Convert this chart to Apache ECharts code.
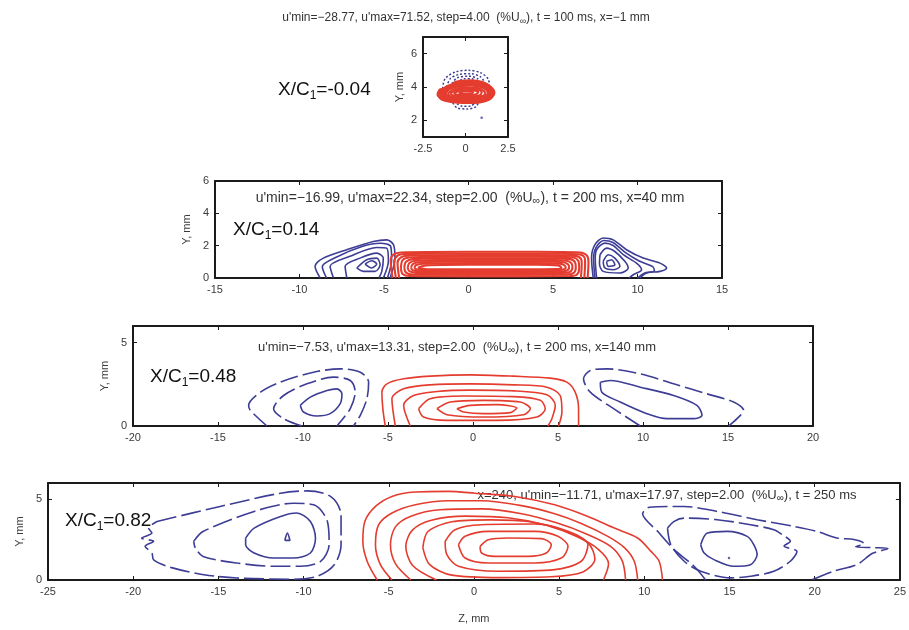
<!DOCTYPE html>
<html>
<head>
    <meta charset="utf-8">
    <title>Velocity contours</title>
    <script src="https://cdn.jsdelivr.net/npm/echarts@6/dist/echarts.min.js"></script>
    <style>
        html, body { margin: 0; padding: 0; background: #fff; }
        #container { width: 909px; height: 630px; }
    </style>
</head>
<body>
<div id="container"></div>
<script>
    var FONT = '"Liberation Sans", Arial, sans-serif';
    var RED = '#e43d2f', BLUE = '#3d3d96';

    // tick values
    var p1XTicks = [-2.5, 0, 2.5], p1YTicks = [2, 4, 6];
    var p2XTicks = [-15, -10, -5, 0, 5, 10, 15], p2YTicks = [0, 2, 4, 6];
    var p3XTicks = [-20, -15, -10, -5, 0, 5, 10, 15, 20], p3YTicks = [0, 5];
    var p4XTicks = [-25, -20, -15, -10, -5, 0, 5, 10, 15, 20, 25], p4YTicks = [0, 5];

    // texts
    var titles = [
        ["u'min=\u221228.77, u'max=71.52, step=4.00  (%U", "), t = 100 ms, x=\u22121 mm"],
        ["u'min=\u221216.99, u'max=22.34, step=2.00  (%U", "), t = 200 ms, x=40 mm"],
        ["u'min=\u22127.53, u'max=13.31, step=2.00  (%U", "), t = 200 ms, x=140 mm"],
        ["x=240, u'min=\u221211.71, u'max=17.97, step=2.00  (%U", "), t = 250 ms"]
    ];
    var stations = ['=-0.04', '=0.14', '=0.48', '=0.82'];

    // panel 1 (x = -1 mm) contour lines, [Z, Y]
    var p1RedRings = [
        [[-1.65, 3.55], [-1.5, 3.85], [-1.0, 3.95], [-0.6, 4.3], [0.3, 4.4], [1.0, 4.3], [1.5, 4.0], [1.7, 3.65], [1.4, 3.25], [0.5, 3.05], [-0.6, 3.08], [-1.4, 3.25]],
        [[-1.58, 3.55], [-1.4, 3.85], [-0.55, 4.25], [0.3, 4.35], [1.0, 4.25], [1.48, 3.98], [1.62, 3.62], [1.35, 3.28], [0.45, 3.09], [-0.6, 3.11], [-1.35, 3.28]],
        [[-1.5, 3.55], [-1.3, 3.85], [-0.5, 4.2], [0.3, 4.3], [1.0, 4.2], [1.45, 3.95], [1.55, 3.6], [1.3, 3.3], [0.4, 3.12], [-0.6, 3.15], [-1.3, 3.3]],
        [[-1.42, 3.55], [-1.2, 3.85], [-0.45, 4.15], [0.3, 4.25], [0.98, 4.15], [1.4, 3.92], [1.5, 3.6], [1.25, 3.32], [0.4, 3.16], [-0.55, 3.18], [-1.22, 3.32]],
        [[-1.35, 3.55], [-1.1, 3.85], [-0.4, 4.1], [0.3, 4.2], [0.95, 4.1], [1.35, 3.9], [1.45, 3.6], [1.2, 3.35], [0.4, 3.2], [-0.5, 3.22], [-1.15, 3.35]],
        [[-1.28, 3.58], [-1.0, 3.88], [-0.35, 4.08], [0.3, 4.15], [0.92, 4.05], [1.3, 3.85], [1.38, 3.6], [1.12, 3.38], [0.35, 3.24], [-0.5, 3.26], [-1.08, 3.38]],
        [[-1.2, 3.6], [-0.9, 3.9], [-0.3, 4.05], [0.3, 4.1], [0.9, 4.0], [1.25, 3.8], [1.3, 3.6], [1.05, 3.4], [0.3, 3.28], [-0.5, 3.3], [-1.0, 3.4]],
        [[-1.05, 3.6], [-0.7, 3.85], [0, 3.98], [0.7, 3.95], [1.1, 3.75], [1.15, 3.58], [0.9, 3.42], [0.2, 3.35], [-0.5, 3.37], [-0.9, 3.45]],
        [[-0.9, 3.62], [-0.5, 3.82], [0.1, 3.9], [0.7, 3.85], [0.95, 3.7], [0.85, 3.5], [0.2, 3.42], [-0.5, 3.45], [-0.8, 3.52]],
        [[-0.7, 3.63], [-0.3, 3.78], [0.3, 3.82], [0.75, 3.7], [0.6, 3.55], [0, 3.5], [-0.5, 3.53]],
        [[-0.4, 3.65], [0, 3.74], [0.45, 3.7], [0.35, 3.6], [-0.1, 3.58]],
        [[-1.65, 3.55], [-1.45, 3.75], [-1.2, 3.65], [-1.3, 3.45], [-1.55, 3.42]],
        [[-1.45, 3.55], [-1.3, 3.68], [-1.12, 3.58], [-1.25, 3.45]]
    ];
    var p1BlueArcs = [
        [[-1.35, 3.9], [-1.2, 4.5], [-0.6, 4.9], [0.2, 5.0], [0.9, 4.85], [1.35, 4.45], [1.4, 4.0]],
        [[-1.1, 4.0], [-0.9, 4.5], [-0.4, 4.75], [0.3, 4.8], [0.9, 4.6], [1.15, 4.2]],
        [[-0.8, 4.2], [-0.5, 4.55], [0.2, 4.65], [0.7, 4.5], [0.9, 4.2]],
        [[-0.5, 4.25], [-0.1, 4.5], [0.4, 4.5], [0.6, 4.25]],
        [[-0.75, 3.05], [-0.5, 2.75], [0.1, 2.68], [0.6, 2.8], [0.75, 3.05]],
        [[-0.5, 3.0], [-0.2, 2.85], [0.3, 2.85], [0.5, 3.0]]
    ];
    var p1Dots = [[0.95, 2.15]];

    // panel 2 (x = 40 mm)
    var p2RedOpen = [
        [[-4.5, 0], [-4.6, 1.1], [-4.45, 1.45], [-4.0, 1.58], [0, 1.62], [4, 1.62], [6.6, 1.58], [7.0, 1.4], [7.1, 1.0], [7.05, 0]],
        [[-4.3, 0], [-4.4, 1.0], [-4.2, 1.38], [-3.8, 1.48], [0, 1.52], [4, 1.52], [6.5, 1.47], [6.85, 1.3], [6.9, 0.9], [6.85, 0]],
        [[-4.1, 0], [-4.2, 0.95], [-4.0, 1.28], [-3.6, 1.38], [0, 1.42], [4, 1.42], [6.3, 1.37], [6.65, 1.2], [6.7, 0.85], [6.65, 0]]
    ];
    var p2RedClosed = [
        [[-4.0, 0.6], [-3.9, 1.1], [-3.5, 1.27], [0, 1.32], [4, 1.32], [6.2, 1.27], [6.5, 1.05], [6.55, 0.6], [6.4, 0.2], [6, 0.12], [0, 0.1], [-3.5, 0.12], [-3.9, 0.25]],
        [[-3.8, 0.62], [-3.7, 1.0], [-3.3, 1.17], [0, 1.22], [4, 1.22], [6.0, 1.17], [6.3, 0.98], [6.35, 0.62], [6.2, 0.3], [5.8, 0.22], [0, 0.2], [-3.3, 0.22], [-3.7, 0.33]],
        [[-3.6, 0.63], [-3.5, 0.93], [-3.1, 1.07], [0, 1.12], [4, 1.12], [5.8, 1.07], [6.1, 0.9], [6.15, 0.63], [6.0, 0.38], [5.6, 0.31], [0, 0.3], [-3.1, 0.32], [-3.5, 0.42]],
        [[-3.4, 0.63], [-3.3, 0.86], [-2.9, 0.97], [0, 1.02], [4, 1.02], [5.6, 0.97], [5.9, 0.83], [5.95, 0.63], [5.8, 0.45], [5.4, 0.4], [0, 0.39], [-2.9, 0.41], [-3.3, 0.48]],
        [[-3.2, 0.63], [-3.1, 0.8], [-2.7, 0.88], [0, 0.92], [4, 0.92], [5.4, 0.88], [5.7, 0.77], [5.75, 0.63], [5.6, 0.52], [5.2, 0.48], [0, 0.47], [-2.7, 0.49], [-3.1, 0.54]],
        [[-3.0, 0.63], [-2.5, 0.78], [0, 0.82], [4, 0.82], [5.3, 0.78], [5.5, 0.63], [5.3, 0.55], [4, 0.54], [0, 0.54], [-2.5, 0.55]]
    ];
    var p2BlueOpen = [
        [[-8.78, 0], [-9.08, 0.72], [-8.59, 1.23], [-7.2, 1.75], [-5.63, 2.26], [-4.84, 2.36], [-4.44, 2.06], [-4.35, 1.23], [-4.64, 0]],
        [[-8.4, 0], [-8.65, 0.7], [-7.8, 1.3], [-6.3, 1.95], [-5.2, 2.15], [-4.6, 1.95], [-4.55, 1.1], [-4.8, 0]],
        [[-7.99, 0], [-8.19, 0.72], [-7.01, 1.34], [-5.43, 1.89], [-4.84, 1.85], [-4.74, 1.03], [-5.04, 0]],
        [[-7.2, 0], [-7.3, 0.72], [-6.42, 1.23], [-5.43, 1.54], [-5.04, 1.23], [-5.13, 0.41], [-5.3, 0]],
        [[7.38, 0], [7.28, 1.23], [7.48, 2.06], [7.97, 2.47], [8.56, 2.36], [9.35, 1.75], [10.34, 1.23], [11.33, 0.92], [11.72, 0.62], [11.33, 0.41], [10.54, 0.31], [10.14, 0]],
        [[7.48, 0], [7.4, 1.2], [7.55, 1.9], [8.0, 2.32], [8.55, 2.2], [9.25, 1.6], [10.1, 1.05], [10.9, 0.7], [11.0, 0.45], [10.4, 0.3], [10.0, 0]],
        [[7.58, 0], [7.5, 1.2], [7.58, 1.75], [8.07, 2.16], [8.56, 2.01], [9.16, 1.44], [9.94, 0.92], [10.24, 0.51], [9.75, 0.2], [9.5, 0]]
    ];
    var p2BlueClosed = [
        [[-6.61, 0.62], [-6.02, 1.13], [-5.43, 1.23], [-5.23, 0.82], [-5.53, 0.41], [-6.22, 0.41]],
        [[-6.12, 0.86], [-5.73, 1.07], [-5.43, 0.86], [-5.73, 0.62]],
        [[7.78, 1.44], [8.17, 1.85], [8.66, 1.64], [9.25, 1.03], [9.45, 0.62], [8.96, 0.31], [7.97, 0.41], [7.75, 0.9]],
        [[7.97, 1.03], [8.27, 1.44], [8.66, 1.23], [8.96, 0.72], [8.56, 0.51], [8.07, 0.62]],
        [[8.17, 1.03], [8.47, 1.13], [8.66, 0.82], [8.27, 0.72]]
    ];

    // panel 3 (x = 140 mm)
    var p3RedOpen = [
        [[-5.16, 0], [-5.3, 1.0], [-5.36, 2.03], [-5.06, 2.53], [-4.08, 2.83], [-2.52, 2.99], [-0.16, 3.07], [2.39, 2.99], [4.54, 2.87], [5.52, 2.63], [6.01, 2.03], [6.21, 1.04], [6.21, 0]],
        [[-4.57, 0], [-4.77, 1.64], [-4.08, 2.23], [-2.52, 2.47], [-0.16, 2.53], [2.39, 2.47], [4.35, 2.33], [5.13, 1.83], [5.23, 0.84], [5.03, 0]],
        [[-3.69, 0], [-4.08, 1.24], [-3.5, 1.83], [-2.12, 2.07], [-0.16, 2.15], [2.39, 2.11], [4.35, 1.87], [4.84, 1.24], [4.64, 0.44], [4.4, 0]]
    ];
    var p3RedClosed = [
        [[-3.2, 1.04], [-2.52, 1.64], [-0.56, 1.8], [2.39, 1.76], [3.96, 1.54], [4.25, 1.04], [3.76, 0.54], [1.41, 0.34], [-1.53, 0.34], [-2.91, 0.54]],
        [[-2.12, 1.04], [-1.34, 1.44], [0.62, 1.54], [2.78, 1.44], [3.37, 1.04], [2.98, 0.68], [0.62, 0.54], [-1.53, 0.68]],
        [[-0.95, 1.04], [-0.16, 1.24], [1.41, 1.28], [2.58, 1.08], [2.19, 0.8], [0.62, 0.74], [-0.56, 0.84]]
    ];
    var p3BlueOpen = [
        [[-12.12, 0], [-13.1, 0.94], [-13.2, 1.24], [-12.5, 2.03], [-11.34, 2.63], [-9.38, 3.23], [-7.81, 3.43], [-6.63, 3.23], [-6.14, 2.63], [-6.24, 1.64], [-6.63, 0.64], [-7.03, 0]],
        [[-10.06, 0], [-11.14, 0.44], [-11.73, 1.04], [-11.14, 1.83], [-9.77, 2.53], [-8.2, 2.93], [-7.22, 2.73], [-6.93, 2.03], [-7.22, 1.04], [-7.81, 0.24], [-8.0, 0]],
        [[9.84, 0], [8.27, 1.04], [6.9, 2.03], [6.5, 2.83], [6.9, 3.33], [7.88, 3.43], [9.84, 3.13], [11.8, 2.53], [13.76, 1.93], [15.33, 1.44], [15.92, 0.94], [15.53, 0.44], [15.04, 0]]
    ];
    var p3BlueClosed = [
        [[-10.16, 1.24], [-9.57, 1.73], [-8.59, 2.13], [-8.0, 2.23], [-7.71, 1.93], [-7.81, 1.34], [-8.4, 0.74], [-9.18, 0.6], [-9.97, 0.84]],
        [[7.49, 2.63], [8.07, 2.73], [9.84, 2.33], [11.8, 1.83], [13.17, 1.24], [13.47, 0.64], [12.98, 0.44], [11.41, 0.44], [10.23, 0.74], [8.66, 1.44], [7.58, 2.03]]
    ];

    // panel 4 (x = 240 mm)
    var p4RedOpen = [
        [[-5.68, 0], [-6.27, 1.16], [-6.52, 2.39], [-6.4, 3.63], [-5.78, 4.55], [-4.81, 5.17], [-3.44, 5.44], [-1.5, 5.48], [0.06, 5.37], [2.4, 5.17], [4.74, 4.65], [6.69, 3.93], [8.24, 3.21], [9.61, 2.6], [10.39, 1.77], [10.87, 1.16], [11.07, 0]],
        [[-4.81, 0], [-5.49, 0.95], [-5.78, 2.18], [-5.59, 3.42], [-4.81, 4.14], [-3.44, 4.65], [-1.5, 4.9], [0.45, 4.9], [2.79, 4.6], [4.74, 4.1], [6.3, 3.5], [7.86, 2.7], [8.83, 2.0], [9.41, 1.16], [9.61, 0]],
        [[-3.7, 0], [-4.6, 1.0], [-4.9, 2.2], [-4.6, 3.3], [-3.7, 3.95], [-2, 4.35], [0.5, 4.4], [2.8, 4.1], [4.8, 3.55], [6.6, 2.85], [8.0, 2.1], [8.7, 1.2], [8.9, 0]],
        [[-2.2, 0], [-3.6, 0.9], [-4.0, 2.1], [-3.6, 3.1], [-2.5, 3.7], [-0.5, 3.95], [2, 3.85], [4.2, 3.4], [6, 2.7], [7.3, 1.9], [7.9, 1.0], [7.6, 0]]
    ];
    var p4RedClosed = [
        [[-3.0, 2.0], [-2.7, 3.0], [-1.3, 3.6], [1.0, 3.72], [3.3, 3.6], [5.2, 3.1], [6.7, 2.3], [7.1, 1.3], [6.4, 0.5], [4.5, 0.2], [1.5, 0.15], [-1.3, 0.3], [-2.6, 0.95]],
        [[-1.69, 2.39], [-1.11, 3.11], [0.45, 3.42], [3.57, 3.46], [5.52, 3.01], [6.69, 2.18], [6.3, 1.16], [4.74, 0.64], [1.43, 0.54], [-0.91, 0.85], [-1.59, 1.57]],
        [[-0.91, 2.18], [-0.52, 2.7], [0.84, 3.01], [3.57, 3.01], [4.93, 2.7], [5.52, 2.08], [5.13, 1.36], [3.57, 1.05], [0.84, 1.05], [-0.52, 1.36]],
        [[0.36, 2.08], [0.84, 2.49], [2.0, 2.6], [3.96, 2.56], [4.54, 2.18], [4.25, 1.67], [3.18, 1.46], [1.23, 1.46], [0.45, 1.67]]
    ];
    var p4BlueDashed = [
        [[-18.6, 3.62], [-14.9, 4.55], [-11.35, 5.37], [-9.8, 5.51], [-8.4, 5.16], [-7.8, 4.03], [-7.8, 2.18], [-8.2, 0.94], [-9.2, 0.23], [-10.6, 0.05], [-13.9, 0.12], [-15.85, 0.33], [-17.8, 0.78], [-18.8, 1.25], [-18.9, 1.67], [-19.3, 2.08], [-18.8, 2.39], [-19.5, 2.59], [-18.9, 2.9], [-19.1, 3.21]],
        [[-16.45, 2.39], [-15.9, 3.0], [-12.9, 4.24], [-10.6, 4.75], [-9.4, 4.65], [-8.6, 3.62], [-8.5, 2.18], [-9.0, 1.15], [-10.2, 0.85], [-11.75, 0.85], [-13.9, 1.05], [-15.9, 1.46], [-16.35, 1.98]],
        [[11.36, 3.21], [11.75, 3.63], [12.34, 3.83], [14.28, 3.73], [16.23, 3.42], [17.6, 3.11], [18.1, 2.8], [18.57, 2.39], [18.2, 2.1], [18.96, 1.77], [18.57, 1.16], [17.6, 0.54], [16.23, 0.23], [15.06, 0.13], [13.31, 0.54], [12.34, 1.16], [11.56, 2.18]]
    ];
    var p4BlueSolid = [
        [[-13.4, 2.59], [-12.9, 3.21], [-11.35, 3.93], [-10.4, 4.14], [-9.6, 3.62], [-9.3, 2.59], [-9.6, 1.67], [-10.6, 1.36], [-11.75, 1.36], [-12.9, 1.67], [-13.4, 2.18]],
        [[-11.1, 2.45], [-10.8, 2.45], [-10.95, 2.9]],
        [[13.31, 2.18], [13.7, 2.9], [14.87, 3.01], [16.04, 2.7], [16.43, 2.18], [16.62, 1.57], [16.23, 0.95], [15.26, 0.85], [14.09, 1.26], [13.51, 1.67]]
    ];
    var p4BlueEdge = [
        [[13.6, 0], [12.92, 0.85], [11.75, 1.88], [10.78, 3.01], [9.9, 4.1], [10.3, 4.5], [12.34, 4.55], [14.28, 4.24], [16.62, 3.73], [18.77, 3.32], [20.13, 3.01], [21.3, 2.6], [22.3, 2.5], [22.9, 2.25], [22.4, 2.05], [23.5, 2.0], [24.3, 1.95], [23.4, 1.65], [22.47, 0.95], [21.1, 0.54], [20.1, 0.13], [19.8, 0]]
    ];
    var p4Dots = [[14.97, 1.36]];

    var panels = [
        {left: 423, top: 37, width: 85, height: 100, xMin: -2.5, xMax: 2.5, yMin: 1, yMax: 7, xTicks: p1XTicks, yTicks: p1YTicks, nameGap: 18, titleSize: 12},
        {left: 215, top: 181, width: 507, height: 97, xMin: -15, xMax: 15, yMin: 0, yMax: 6, xTicks: p2XTicks, yTicks: p2YTicks, nameGap: 10, titleSize: 14},
        {left: 133, top: 326, width: 680, height: 100, xMin: -20, xMax: 20, yMin: 0, yMax: 6, xTicks: p3XTicks, yTicks: p3YTicks, nameGap: 23, titleSize: 13},
        {left: 48, top: 483, width: 855, height: 97, xMin: -25, xMax: 25, yMin: 0, yMax: 6, xTicks: p4XTicks, yTicks: p4YTicks, nameGap: 22, titleSize: 13}
    ];

    var grids = [], xAxes = [], yAxes = [], series = [];
    var frame = {onZero: false, lineStyle: {color: '#1b1b1b', width: 2}};

    panels.forEach(function (p, i) {
        grids.push({left: p.left, top: p.top, width: p.width, height: p.height, containLabel: false});
        var tick = {inside: true, length: 4, customValues: p.xTicks, lineStyle: {color: '#1b1b1b', width: 1}};
        var ytick = {inside: true, length: 4, customValues: p.yTicks, lineStyle: {color: '#1b1b1b', width: 1}};
        xAxes.push({
            gridIndex: i, type: 'value', min: p.xMin, max: p.xMax, position: 'bottom',
            axisLine: frame, axisTick: tick, splitLine: {show: false},
            axisLabel: {customValues: p.xTicks, color: '#3a3a3a', fontSize: 11, fontFamily: FONT, margin: 6},
            name: i === 3 ? 'Z, mm' : '', nameLocation: 'middle', nameGap: 33,
            nameTextStyle: {color: '#3a3a3a', fontSize: 11, fontFamily: FONT}
        });
        xAxes.push({
            gridIndex: i, type: 'value', min: p.xMin, max: p.xMax, position: 'top',
            axisLine: frame, axisTick: tick, axisLabel: {show: false}, splitLine: {show: false}
        });
        yAxes.push({
            gridIndex: i, type: 'value', min: p.yMin, max: p.yMax, position: 'left',
            axisLine: frame, axisTick: ytick, splitLine: {show: false},
            axisLabel: {customValues: p.yTicks, color: '#3a3a3a', fontSize: 11, fontFamily: FONT, margin: 6},
            name: 'Y, mm', nameLocation: 'middle', nameGap: p.nameGap, nameRotate: 90,
            nameTextStyle: {color: '#3a3a3a', fontSize: 11, fontFamily: FONT}
        });
        yAxes.push({
            gridIndex: i, type: 'value', min: p.yMin, max: p.yMax, position: 'right',
            axisLine: frame, axisTick: ytick, axisLabel: {show: false}, splitLine: {show: false}
        });
    });

    function addRings(list, gi, color, closed, dash, width) {
        list.forEach(function (pts) {
            var d = pts.slice();
            if (closed) d.push(pts[0]);
            series.push({
                type: 'line', xAxisIndex: gi * 2, yAxisIndex: gi * 2, data: d,
                symbol: 'none', smooth: 0.3, clip: true, silent: true,
                lineStyle: {color: color, width: width || 1.6, type: dash || 'solid'}
            });
        });
    }

    function addDots(list, gi, color) {
        series.push({
            type: 'scatter', xAxisIndex: gi * 2, yAxisIndex: gi * 2, data: list,
            symbolSize: 2.5, itemStyle: {color: color}, silent: true
        });
    }

    addRings(p1BlueArcs, 0, BLUE, false, [2, 2], 1.5);
    addRings(p1RedRings, 0, RED, true, null, 2.2);
    addDots(p1Dots, 0, BLUE);

    addRings(p2BlueOpen, 1, BLUE, false);
    addRings(p2BlueClosed, 1, BLUE, true);
    addRings(p2RedOpen, 1, RED, false, null, 2.1);
    addRings(p2RedClosed, 1, RED, true, null, 2.1);

    addRings(p3BlueOpen, 2, BLUE, false, [18, 5]);
    addRings(p3BlueClosed, 2, BLUE, true);
    addRings(p3RedOpen, 2, RED, false);
    addRings(p3RedClosed, 2, RED, true);

    addRings(p4BlueDashed, 3, BLUE, true, [20, 5]);
    addRings(p4BlueSolid, 3, BLUE, true);
    addRings(p4BlueEdge, 3, BLUE, false, [20, 5]);
    addDots(p4Dots, 3, BLUE);
    addRings(p4RedOpen, 3, RED, false);
    addRings(p4RedClosed, 3, RED, true);

    // titles and X/C1 labels
    var titlePos = [[466, 18], [470, 198], [457, 347], [667, 495]];
    var stationPos = [[278, 90], [233, 230], [150, 377], [65, 521]];
    var graphics = [];
    titles.forEach(function (t, i) {
        var fs = panels[i].titleSize;
        graphics.push({
            type: 'text', x: titlePos[i][0], y: titlePos[i][1], silent: true,
            style: {
                text: '{t|' + t[0] + '}{i|\u221e}{t|' + t[1] + '}',
                align: 'center', verticalAlign: 'middle', textAlign: 'center', textVerticalAlign: 'middle',
                rich: {
                    t: {fontSize: fs, fontFamily: FONT, fill: '#333', color: '#333', lineHeight: 16},
                    i: {fontSize: fs - 3, fontFamily: FONT, fill: '#333', color: '#333', lineHeight: 16, verticalAlign: 'bottom'}
                }
            }
        });
    });
    stations.forEach(function (s, i) {
        graphics.push({
            type: 'text', x: stationPos[i][0], y: stationPos[i][1], silent: true,
            style: {
                text: '{a|X/C}{s|1}{a|' + s + '}',
                align: 'left', verticalAlign: 'middle', textAlign: 'left', textVerticalAlign: 'middle',
                rich: {
                    a: {fontSize: 19, fontFamily: FONT, fill: '#111', color: '#111', lineHeight: 24},
                    s: {fontSize: 12, fontFamily: FONT, fill: '#111', color: '#111', lineHeight: 24, verticalAlign: 'bottom'}
                }
            }
        });
    });

    var myChart = echarts.init(document.getElementById('container'), null, {renderer: 'canvas'});
    myChart.setOption({
        animation: false,
        backgroundColor: '#fff',
        grid: grids,
        xAxis: xAxes,
        yAxis: yAxes,
        series: series,
        graphic: graphics
    });
</script>
</body>
</html>
